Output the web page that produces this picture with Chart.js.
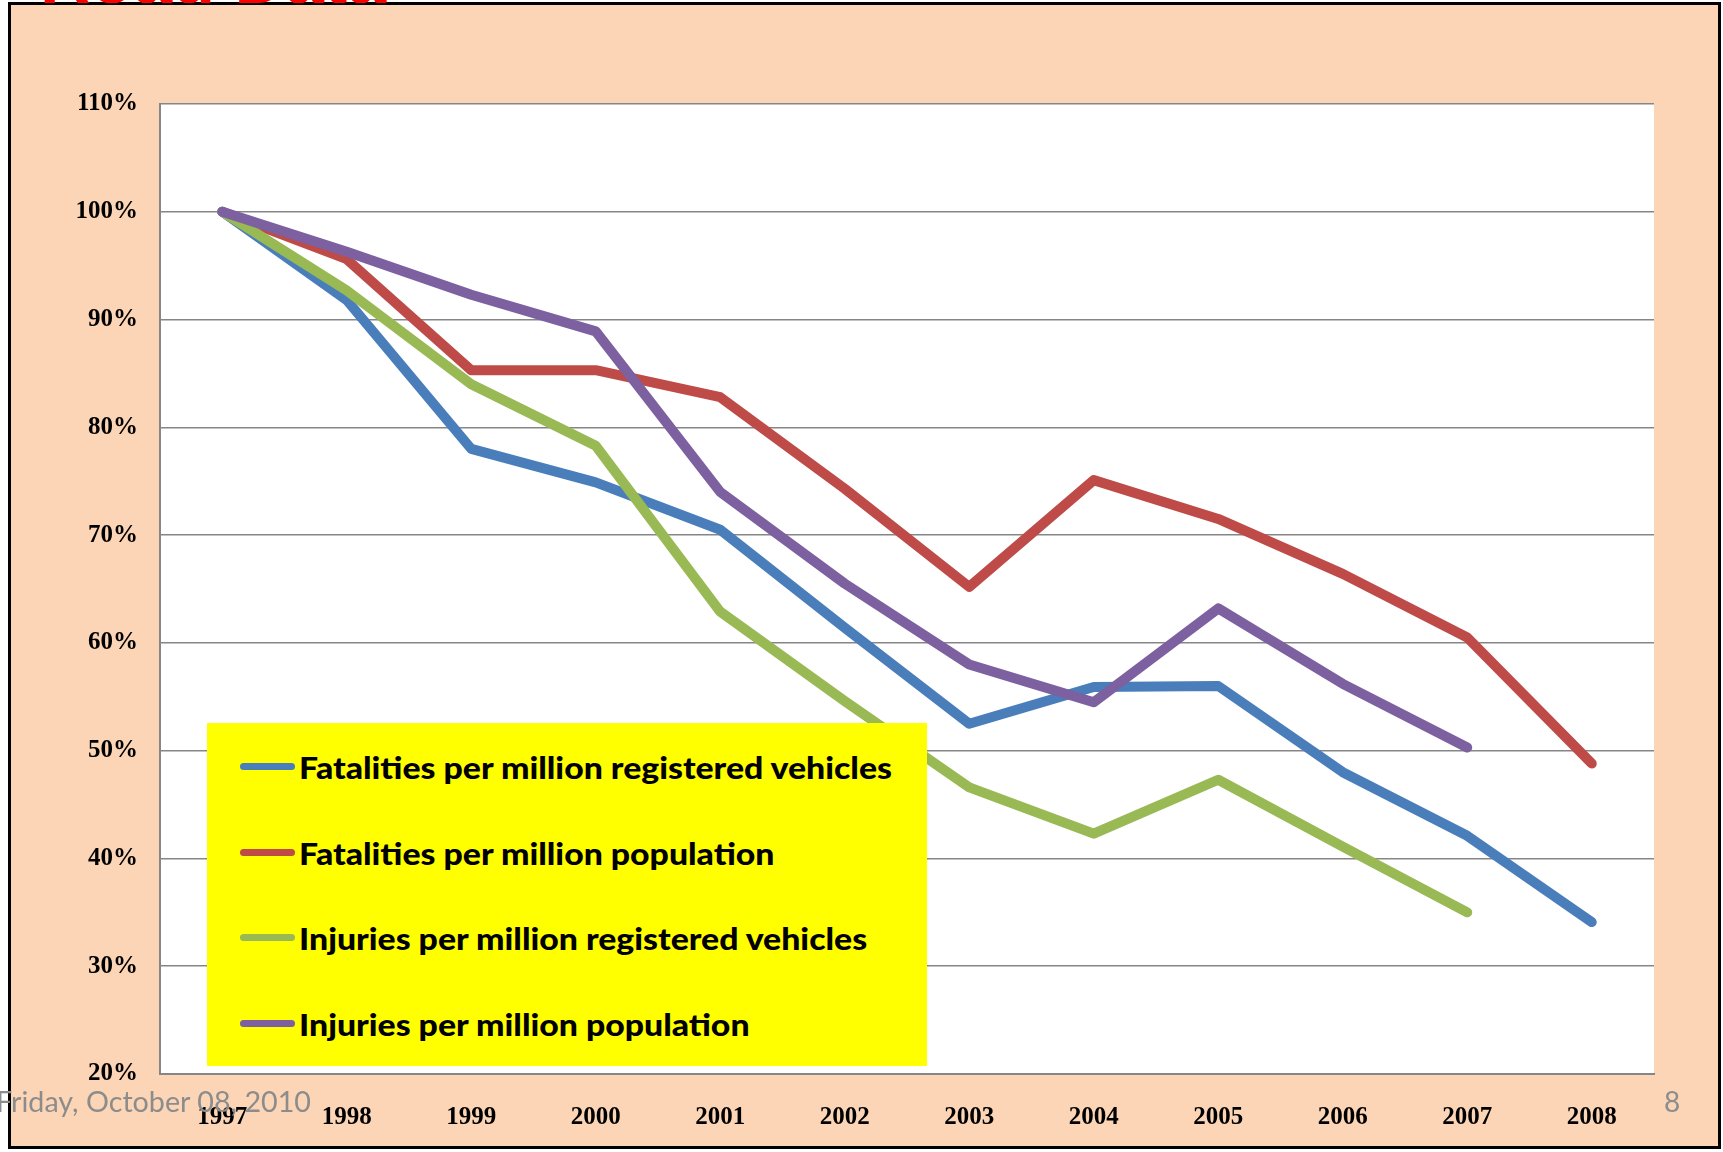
<!DOCTYPE html>
<html>
<head>
<meta charset="utf-8">
<script src="https://cdn.jsdelivr.net/npm/chart.js"></script>
<style>
  html, body { margin:0; padding:0; background:#fff; }
  body { width:1723px; height:1152px; position:relative; overflow:hidden; }
  #frame { position:absolute; left:8px; top:2px; width:1707px; height:1141px; background:#FBD5B5; border:3px solid #000; }
  #title { position:absolute; left:40px; top:0; width:600px; height:3px; overflow:hidden; clip-path:inset(0 0 0 0); z-index:5; }
  #title span { position:absolute; left:0; top:-56px; font:bold 70px "Liberation Sans", sans-serif; line-height:70px; color:#f00; white-space:nowrap; }
  #chart { position:absolute; left:0; top:0; z-index:2; }
  #legend { position:absolute; left:207px; top:723px; width:720px; height:343px; background:#FFFF00; z-index:3; }
  .row { position:absolute; left:0; height:40px; width:720px; }
  .swatch { position:absolute; left:33px; top:16px; width:55px; height:7px; border-radius:4px; }
  .lbl { position:absolute; left:92px; top:0; font:900 31px Lato, sans-serif; line-height:40px; color:#000; white-space:nowrap; transform-origin:0 50%; }
  #date { position:absolute; left:-4px; top:1084px; font:28px Lato, sans-serif; color:#8c8c8c; white-space:nowrap; transform-origin:0 50%; z-index:4; }
  #page { position:absolute; left:1664px; top:1084px; font:28px Lato, sans-serif; color:#8c8c8c; z-index:4; }
</style>
</head>
<body>
<div id="frame"></div>
<div id="title"><span>Road Data</span></div>
<canvas id="chart" width="1723" height="1152"></canvas>
<div id="legend"></div>
<div id="date">Friday, October 08, 2010</div>
<div id="page">8</div>
<script>
// values, 1997 = 100%
var years = ['1997','1998','1999','2000','2001','2002','2003','2004','2005','2006','2007','2008'];
var fatalVehicles   = [100, 91.8, 78.0, 74.9, 70.5, 61.4, 52.5, 55.9, 56.0, 48.0, 42.1, 34.1];
var fatalPopulation = [100, 95.6, 85.3, 85.3, 82.8, 74.3, 65.2, 75.1, 71.5, 66.4, 60.5, 48.8];
var injuryVehicles  = [100, 92.7, 84.0, 78.3, 62.9, 54.6, 46.6, 42.3, 47.3, 41.1, 35.0, null];
var injuryPopulation= [100, 96.3, 92.3, 88.9, 74.0, 65.5, 58.0, 54.5, 63.2, 56.2, 50.3, null];

var seriesNames = ['Fatalities per million registered vehicles', 'Fatalities per million population',
                   'Injuries per million registered vehicles', 'Injuries per million population'];
var seriesColors = ['#4A7EBB', '#BE4B48', '#98B954', '#7D60A0'];
var seriesData = [fatalVehicles, fatalPopulation, injuryVehicles, injuryPopulation];

var plotBg = {
	id: 'plotBg',
	beforeDraw: function(chart) {
		var a = chart.chartArea, ctx = chart.ctx;
		ctx.save();
		ctx.fillStyle = '#fff';
		ctx.fillRect(a.left, a.top, a.right - a.left, a.bottom - a.top);
		ctx.restore();
	}
};

var datasets = [];
for (let i in seriesNames) {
	datasets.push({
		label: seriesNames[i],
		data: seriesData[i],
		borderColor: seriesColors[i],
		backgroundColor: seriesColors[i],
		borderWidth: 10,
		borderCapStyle: 'round',
		borderJoinStyle: 'round',
		pointRadius: 0,
		tension: 0,
		fill: false,
		order: 4 - i
	});
}

var tickFont = { family: 'Liberation Serif', weight: 'bold', size: 25 };

new Chart(document.getElementById('chart'), {
	type: 'line',
	data: { labels: years, datasets: datasets },
	options: {
		responsive: false,
		animation: false,
		devicePixelRatio: 1,
		layout: { padding: { top: 104, right: 69, left: 0, bottom: 0 } },
		plugins: { legend: { display: false }, tooltip: { enabled: false } },
		scales: {
			x: {
				offset: true,
				grid: { display: false, drawTicks: false },
				border: { display: true, color: '#868686', width: 2 },
				ticks: { color: '#000', font: tickFont, padding: 29, maxRotation: 0 },
				afterFit: function(s) { s.height = 78; }
			},
			y: {
				min: 20, max: 110,
				grid: { color: '#868686', lineWidth: 1.5, drawTicks: false },
				border: { display: true, color: '#868686', width: 2 },
				ticks: { stepSize: 10, color: '#000', font: tickFont, padding: 22,
					callback: function(v) { return v + '%'; } },
				afterFit: function(s) { s.width = 160; }
			}
		}
	},
	plugins: [plotBg]
});

// legend box
var legend = document.getElementById('legend');
var rowTops = [24, 110, 195, 281];
for (let i in seriesNames) {
	var row = document.createElement('div');
	row.className = 'row';
	row.style.top = rowTops[i] + 'px';
	row.innerHTML = '<div class="swatch" style="background:' + seriesColors[i] + '"></div>' +
		'<div class="lbl">' + seriesNames[i] + '</div>';
	legend.appendChild(row);
}

function fitText() {
	var labels = document.querySelectorAll('.lbl');
	var k = 593 / labels[0].getBoundingClientRect().width;
	labels.forEach(function(l) { l.style.transform = 'scaleX(' + k + ')'; });
	var d = document.getElementById('date');
	d.style.transform = 'scaleX(' + (315 / d.getBoundingClientRect().width) + ')';
}
if (document.fonts && document.fonts.ready) document.fonts.ready.then(fitText); else fitText();
</script>
</body>
</html>
